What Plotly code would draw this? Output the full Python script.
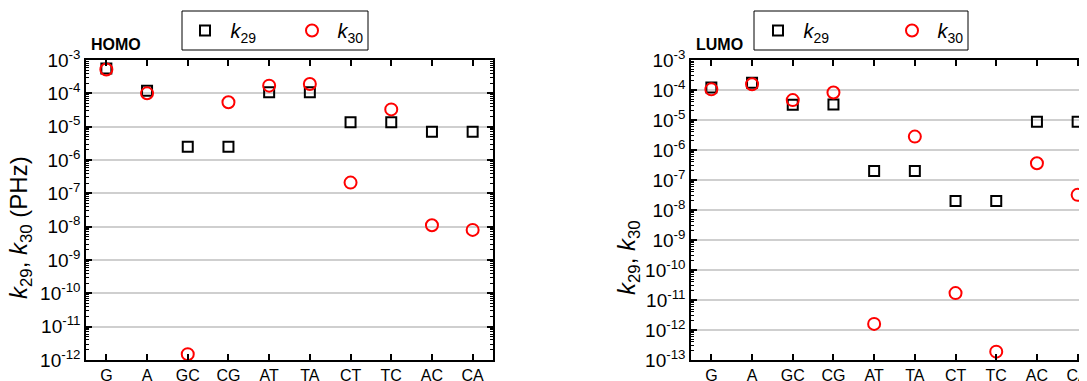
import plotly.graph_objects as go

categories = ["G", "A", "GC", "CG", "AT", "TA", "CT", "TC", "AC", "CA"]

homo_k29 = [5.6e-4, 1.2e-4, 2.5e-6, 2.5e-6, 1.07e-4, 1.07e-4, 1.35e-5, 1.35e-5, 7.0e-6, 7.0e-6]
homo_k30 = [5.2e-4, 1.0e-4, 1.5e-12, 5.4e-5, 1.7e-4, 1.9e-4, 2.1e-7, 3.3e-5, 1.1e-8, 8.0e-9]

lumo_k29 = [1.2e-4, 1.75e-4, 3.2e-5, 3.3e-5, 2.0e-7, 2.0e-7, 2.0e-8, 2.0e-8, 8.8e-6, 8.8e-6]
lumo_k30 = [1.05e-4, 1.55e-4, 4.6e-5, 8.3e-5, 1.6e-12, 2.8e-6, 1.7e-11, 1.9e-13, 3.6e-7, 3.2e-8]

homo_exps = list(range(-12, -2))
lumo_exps = list(range(-13, -2))

# page body has an 8px default margin; figure is sized so it ends at the window edge
OFF = 8
W, H = 1087 - OFF, 381 - OFF
FONT = "Arial, Liberation Sans, sans-serif"

def px(x):
    return (x - OFF) / W

def py(y):
    return 1 - (y - OFF) / H

fig = go.Figure()

xidx = list(range(len(categories)))

sq = dict(symbol="square-open", size=10, color="black", line=dict(width=2, color="black"))
ci = dict(symbol="circle-open", size=12, color="red", line=dict(width=2, color="red"))

NB = "&nbsp;"
fig.add_trace(go.Scatter(x=xidx, y=homo_k29, mode="markers", marker=sq,
                         name=NB + "<i>k</i><sub>29</sub>",
                         xaxis="x", yaxis="y", legend="legend"))
fig.add_trace(go.Scatter(x=xidx, y=homo_k30, mode="markers", marker=ci,
                         name=NB + "<i>k</i><sub>30</sub>",
                         xaxis="x", yaxis="y", legend="legend"))
fig.add_trace(go.Scatter(x=xidx, y=lumo_k29, mode="markers", marker=sq,
                         name=NB + "<i>k</i><sub>29</sub>",
                         xaxis="x2", yaxis="y2", legend="legend2"))
fig.add_trace(go.Scatter(x=xidx, y=lumo_k30, mode="markers", marker=ci,
                         name=NB + "<i>k</i><sub>30</sub>",
                         xaxis="x2", yaxis="y2", legend="legend2"))

xcommon = dict(
    tickmode="array", tickvals=xidx, ticktext=categories,
    showline=True, linecolor="black", linewidth=1.5,
    ticks="inside", ticklen=6, tickwidth=1.5, tickcolor="black",
    showgrid=False, zeroline=False, automargin=False,
    tickfont=dict(family=FONT, size=16, color="black"),
    ticklabeloverflow="allow",
    mirror="ticks",
)

def ycommon(exps, mirror):
    minor_vals = [m * 10.0 ** e for e in exps[:-1] for m in range(2, 10)]
    return dict(
        type="log",
        tickmode="array",
        tickvals=[10.0 ** e for e in exps],
        ticktext=["10<sup>%d</sup>" % e for e in exps],
        range=[exps[0], exps[-1]],
        showline=True, linecolor="black", linewidth=1.5,
        ticks="inside", ticklen=6, tickwidth=1.5, tickcolor="black",
        minor=dict(tickmode="array", tickvals=minor_vals, ticks="inside", ticklen=3,
                   tickwidth=1, tickcolor="black", showgrid=False),
        showgrid=True, gridcolor="#cfcfcf", gridwidth=1.5,
        zeroline=False, automargin=False,
        tickfont=dict(family=FONT, size=19, color="black"),
        mirror=mirror,
    )

legend_common = dict(yanchor="top", xanchor="left", orientation="h",
                     borderwidth=0, bgcolor="rgba(0,0,0,0)",
                     font=dict(family=FONT, size=20, color="black"),
                     entrywidthmode="pixels")

fig.update_layout(
    width=W, height=H,
    margin=dict(l=0, r=0, t=0, b=0, autoexpand=False),
    paper_bgcolor="white", plot_bgcolor="white",
    xaxis=dict(domain=[px(86), px(493)], range=[-0.5, 9.5], anchor="y", **xcommon),
    yaxis=dict(domain=[py(360), py(60)], anchor="x", **ycommon(homo_exps, "ticks")),
    xaxis2=dict(domain=[px(691), 1.0], range=[-0.5, 9.23], anchor="y2", **xcommon),
    yaxis2=dict(domain=[py(360), py(60)], anchor="x2", **ycommon(lumo_exps, False)),
    legend=dict(x=px(185), y=py(11), entrywidth=62, **legend_common),
    legend2=dict(x=px(758), y=py(11), entrywidth=89, **legend_common),
    showlegend=True,
    shapes=[
        dict(type="rect", xref="paper", yref="paper",
             x0=px(182), x1=px(368), y0=py(50), y1=py(11),
             line=dict(color="black", width=1), fillcolor="rgba(0,0,0,0)", layer="above"),
        dict(type="rect", xref="paper", yref="paper",
             x0=px(754), x1=px(968), y0=py(50), y1=py(11),
             line=dict(color="black", width=1), fillcolor="rgba(0,0,0,0)", layer="above"),
    ],
)

annots = [
    dict(text="<b>HOMO</b>", x=px(89), y=py(45), xanchor="left", yanchor="middle",
         font=dict(family=FONT, size=16, color="black")),
    dict(text="<b>LUMO</b>", x=px(694), y=py(45), xanchor="left", yanchor="middle",
         font=dict(family=FONT, size=16, color="black")),
    dict(text="<i>k</i><sub>29</sub>, <i>k</i><sub>30</sub> (PHz)", x=px(21), y=py(228),
         xanchor="center", yanchor="middle", textangle=-90,
         font=dict(family=FONT, size=24, color="black")),
    dict(text="<i>k</i><sub>29</sub>, <i>k</i><sub>30</sub>", x=px(628), y=py(258),
         xanchor="center", yanchor="middle", textangle=-90,
         font=dict(family=FONT, size=24, color="black")),
]
for a in annots:
    a.update(xref="paper", yref="paper", showarrow=False)
fig.update_layout(annotations=annots)

fig.write_html("out.html")
